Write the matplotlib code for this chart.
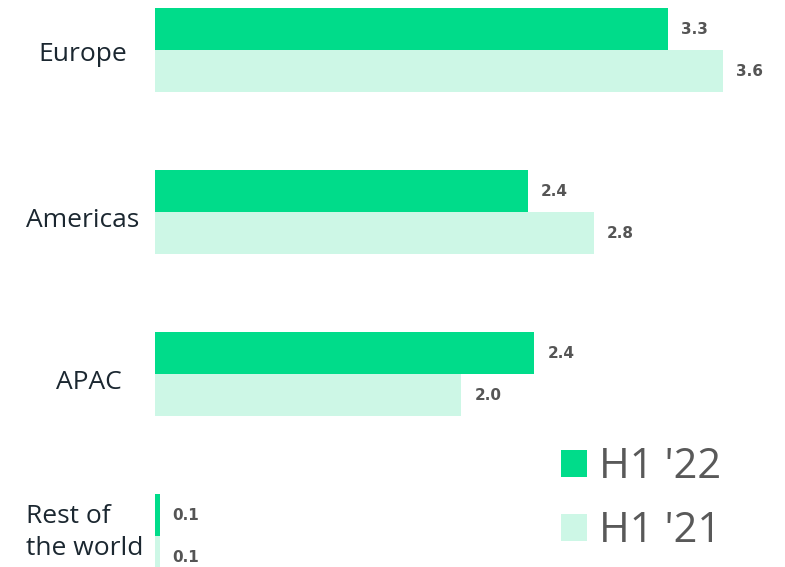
import matplotlib.pyplot as plt
import matplotlib.patches as mpatches
import numpy as np

regions = ["Europe", "Americas", "APAC", "Rest of\nthe world"]
h1_22 = [3.30, 2.40, 2.44, 0.03]
h1_21 = [3.65, 2.82, 1.97, 0.03]
h1_22_labels = ["3.3", "2.4", "2.4", "0.1"]
h1_21_labels = ["3.6", "2.8", "2.0", "0.1"]
series_names = ["H1 '22", "H1 '21"]

c22 = '#00DC8A'
c21 = '#CDF7E6'

fig = plt.figure(figsize=(7.85, 5.67), dpi=100)
ax = fig.add_axes([155 / 785, 0, 1 - 155 / 785, 1])

y = np.arange(len(regions))
h = 42 / 162
ax.barh(y - h / 2, h1_22, height=h, color=c22)
ax.barh(y + h / 2, h1_21, height=h, color=c21)

ax.set_xlim(0, (785 - 155) / 155.5)
ax.set_ylim(3 + 31 / 162, -50 / 162)
ax.axis('off')

pad = 13 / 155.5
for i in range(len(regions)):
    ax.text(h1_22[i] + pad, y[i] - h / 2, h1_22_labels[i], va='center', ha='left',
            fontsize=11, fontweight='bold', color='#555555', family='DejaVu Sans')
    ax.text(h1_21[i] + pad, y[i] + h / 2, h1_21_labels[i], va='center', ha='left',
            fontsize=11, fontweight='bold', color='#555555', family='DejaVu Sans')

# category labels (pixel positions of the baselines)
label_x = [83, 83, 89]
label_base = [61, 227, 389]
for i in range(3):
    fig.text(label_x[i] / 785, 1 - label_base[i] / 567, regions[i],
             ha='center', va='baseline', fontsize=19, color='#1b2730', family='Open Sans')
fig.text(26 / 785, 1 - 555 / 567, regions[3], ha='left', va='baseline',
         fontsize=19, color='#1b2730', family='Open Sans', linespacing=1.36)

recs = [mpatches.Rectangle((0, 0), 1, 1, fc=c22), mpatches.Rectangle((0, 0), 1, 1, fc=c21)]
leg = fig.legend(recs, series_names, loc='upper left', bbox_to_anchor=(561 / 785, 1 - 446 / 567),
                 frameon=False, handlelength=0.62, handleheight=0.62,
                 handletextpad=0.29, labelspacing=0.53, borderpad=0, borderaxespad=0,
                 prop={'family': 'Open Sans', 'size': 30})
for t in leg.get_texts():
    t.set_color('#595959')

plt.savefig('out.png', dpi=100)
